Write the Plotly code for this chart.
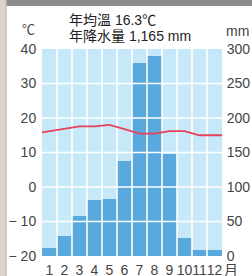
import plotly.graph_objects as go

months = list(range(1, 13))
month_labels = ["1", "2", "3", "4", "5", "6", "7", "8", "9", "10", "11", "12"]
precip_mm = [11, 29, 58, 81, 83, 138, 280, 290, 148, 26, 8, 8]
temp_c = [16.2, 16.9, 17.6, 17.6, 18.0, 16.8, 15.5, 15.5, 16.2, 16.2, 15.0, 15.0]
temp_ticks = [-20, -10, 0, 10, 20, 30, 40]
temp_ticktext = ["\u2212 20", "\u2212 10", "0", "10", "20", "30", "40"]
precip_ticks = [0, 50, 100, 150, 200, 250, 300]
title_lines = ["年均溫 16.3℃", "年降水量 1,165 mm"]

W, H = 252, 276
L, R, T, B = 42, 30, 49, 20
PW, PH = W - L - R, H - T - B

# line extended to plot edges by linear extrapolation of the data
x_line = [months[0] - 0.5] + months + [months[-1] + 0.5]
t_first = temp_c[0] - (temp_c[1] - temp_c[0]) / 2
t_last = temp_c[-1] + (temp_c[-1] - temp_c[-2]) / 2
y_line = [t_first] + temp_c + [t_last]

# white grid (drawn above bars, below the temperature line)
gx, gy = [], []
for v in precip_ticks[1:-1]:
    gx += [months[0] - 0.5, months[-1] + 0.5, None]
    gy += [v, v, None]
for m in months[1:]:
    gx += [m - 0.5, m - 0.5, None]
    gy += [precip_ticks[0], precip_ticks[-1], None]

font_family = "Liberation Sans, Arial, Noto Sans CJK TC, sans-serif"
tick_color = "#444444"

fig = go.Figure()
fig.add_trace(go.Bar(x=months, y=precip_mm, yaxis="y", marker_color="#5aa9de",
                     marker_line_width=0, width=1.0))
fig.add_trace(go.Scatter(x=gx, y=gy, yaxis="y", mode="lines",
                         line=dict(color="white", width=1.6), hoverinfo="skip"))
fig.add_trace(go.Scatter(x=x_line, y=y_line, yaxis="y2", mode="lines",
                         line=dict(color="#e8415c", width=1.8), cliponaxis=False))

def px_x(p):
    return (p - L) / PW
def px_y(p):
    return 1 - (p - T) / PH

shapes = [
    dict(type="rect", xref="paper", yref="paper", x0=px_x(0), x1=px_x(5.5),
         y0=px_y(H), y1=px_y(0), fillcolor="#ddd3c9", line_width=0, layer="above"),
    dict(type="rect", xref="paper", yref="paper", x0=px_x(5.5), x1=px_x(6.5),
         y0=px_y(H), y1=px_y(0), fillcolor="#a8a09a", line_width=0, layer="above"),
    dict(type="rect", xref="paper", yref="paper", x0=px_x(6.5), x1=px_x(W),
         y0=px_y(6), y1=px_y(0), fillcolor="#8c8c8c", line_width=0, layer="above"),
]

annotations = [
    dict(text=title_lines[0], xref="paper", yref="paper", x=px_x(67), y=px_y(20),
         xanchor="left", yanchor="middle", showarrow=False, font=dict(size=14, color="#222")),
    dict(text=title_lines[1], xref="paper", yref="paper", x=px_x(67), y=px_y(36.5),
         xanchor="left", yanchor="middle", showarrow=False, font=dict(size=14, color="#222")),
    dict(text="℃", xref="paper", yref="paper", x=px_x(28.5), y=px_y(29),
         xanchor="center", yanchor="middle", showarrow=False, font=dict(size=13, color=tick_color)),
    dict(text="mm", xref="paper", yref="paper", x=px_x(238), y=px_y(31),
         xanchor="center", yanchor="middle", showarrow=False, font=dict(size=14, color=tick_color)),
    dict(text="月", xref="paper", yref="paper", x=px_x(222), y=px_y(270),
         xanchor="left", yanchor="middle", showarrow=False, font=dict(size=14, color=tick_color)),
]

fig.update_layout(
    width=W, height=H,
    margin=dict(l=L, r=R, t=T, b=B, pad=0),
    paper_bgcolor="white", plot_bgcolor="#c6e8f8",
    showlegend=False, bargap=0,
    font=dict(family=font_family, size=14, color=tick_color),
    xaxis=dict(range=[0.5, 12.5], tickvals=months, ticktext=month_labels, showgrid=False,
               zeroline=False, showline=False, ticks="outside", ticklen=1, tickcolor="rgba(0,0,0,0)",
               tickangle=0, automargin=False,
               tickfont=dict(size=14, color=tick_color), fixedrange=True),
    yaxis=dict(range=[0, 300], tickvals=precip_ticks, side="right", showgrid=False,
               zeroline=False, showline=False, ticks="outside", ticklen=1, tickcolor="rgba(0,0,0,0)",
               automargin=False, tickfont=dict(size=14, color=tick_color)),
    yaxis2=dict(range=[-20, 40], tickvals=temp_ticks, ticktext=temp_ticktext, overlaying="y",
                side="left", showgrid=False, zeroline=False, showline=False, ticks="outside",
                ticklen=2, tickcolor="rgba(0,0,0,0)", automargin=False,
                tickfont=dict(size=14, color=tick_color)),
    shapes=shapes, annotations=annotations,
)

fig.write_html("out.html", config={"displayModeBar": False},
               post_script="document.body.style.margin='0';document.body.style.padding='0';")
